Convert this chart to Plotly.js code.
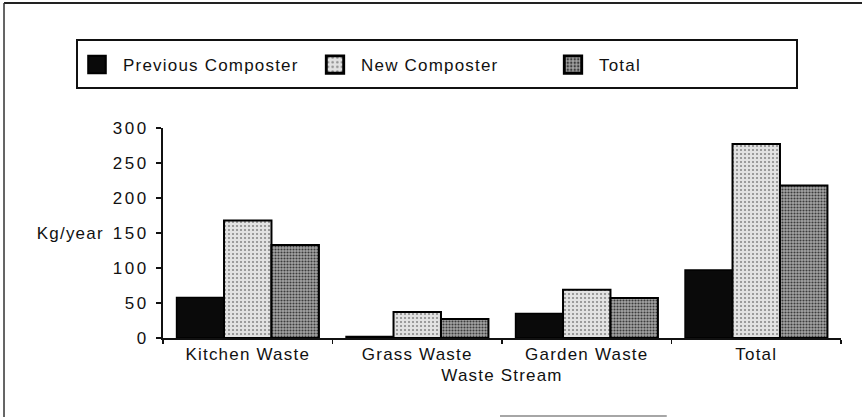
<!DOCTYPE html>
<html>
<head>
<meta charset="utf-8">
<script src="https://cdn.plot.ly/plotly-3.0.1.min.js"></script>
<style>
html, body { margin: 0; padding: 0; background: #fff; }
#chart { width: 862px; height: 417px; }
.main-svg text { letter-spacing: 1.2px; }
.ytick text { letter-spacing: 2.5px; }
.legendpoints path { transform-box: fill-box; transform-origin: center; transform: translate(18px, 0px) scale(1.45); }
</style>
</head>
<body>
<div id="chart"></div>
<script>
const categories = ["Kitchen Waste", "Grass Waste", "Garden Waste", "Total"];
const previousComposter = [58, 2, 35, 97];
const newComposter = [168, 37, 69, 277];
const totalValues = [133, 27, 57, 218];
const seriesNames = ["Previous Composter", "New Composter", "Total"];
const yTickValues = [0, 50, 100, 150, 200, 250, 300];
const yTickLabels = ["0", "50", "100", "150", "200", "250", "300"];

const font = { family: "Liberation Sans, Arial, sans-serif", size: 17, color: "#111" };

const traces = [
  {
    type: "bar", name: seriesNames[0], x: categories, y: previousComposter,
    marker: { color: "#0a0a0a", line: { color: "#000", width: 1.5 } }
  },
  {
    type: "bar", name: seriesNames[1], x: categories, y: newComposter,
    marker: {
      color: "#d2d2d2",
      line: { color: "#000", width: 2 },
      pattern: { shape: ".", bgcolor: "#e2e2e2", fgcolor: "#8a8a8a", size: 4, solidity: 0.22 }
    }
  },
  {
    type: "bar", name: seriesNames[2], x: categories, y: totalValues,
    marker: {
      color: "#8c8c8c",
      line: { color: "#000", width: 2 },
      pattern: { shape: ".", bgcolor: "#a4a4a4", fgcolor: "#3c3c3c", size: 3, solidity: 0.4 }
    }
  }
];

const W = 862, H = 417;
const layout = {
  width: W, height: H,
  margin: { l: 163, r: 21, t: 128, b: 79 },
  paper_bgcolor: "#fff", plot_bgcolor: "#fff",
  font: font,
  barmode: "group", bargap: 0.16, bargroupgap: 0,
  showlegend: true,
  legend: {
    orientation: "h",
    x: (79 - 163) / 678, xanchor: "left", y: (338 - 47) / 210, yanchor: "top",
    borderwidth: 0, bgcolor: "rgba(0,0,0,0)",
    entrywidth: 189, entrywidthmode: "pixels",
    font: font, itemwidth: 34
  },
  xaxis: {
    type: "category", showline: true, linecolor: "#111", linewidth: 2,
    ticks: "outside", tickson: "boundaries", ticklen: 4, tickwidth: 1.5, tickcolor: "#111",
    showgrid: false, zeroline: false, tickfont: font,
    title: { text: "Waste Stream", font: font, standoff: 6 }
  },
  yaxis: {
    range: [0, 300], showline: true, linecolor: "#111", linewidth: 2,
    ticks: "outside", ticklen: 5, tickwidth: 1.5, tickcolor: "#111",
    tickvals: yTickValues, ticktext: yTickLabels,
    showgrid: false, zeroline: false, tickfont: font, ticklabelstandoff: 4
  },
  annotations: [
    { text: "Kg/year", xref: "paper", yref: "y", x: -0.09, y: 150, xanchor: "right", yanchor: "middle", showarrow: false, font: font }
  ],
  shapes: [
    { type: "rect", xref: "paper", yref: "paper",
      x0: (77 - 163) / 678, x1: (797 - 163) / 678, y0: (338 - 40) / 210, y1: (338 - 88) / 210,
      line: { color: "#111", width: 2 }, fillcolor: "rgba(0,0,0,0)" },
    { type: "line", xref: "paper", yref: "paper", x0: -0.2345, x1: 1.04, y0: 1.595, y1: 1.595, line: { color: "#222", width: 2 } },
    { type: "line", xref: "paper", yref: "paper", x0: -0.2345, x1: -0.2345, y0: 1.595, y1: -0.38, line: { color: "#333", width: 1.5 } },
    { type: "line", xref: "paper", yref: "paper", x0: 0.497, x1: 0.743, y0: -0.372, y1: -0.372, line: { color: "#888", width: 1.5 } }
  ]
};

Plotly.newPlot("chart", traces, layout, { displayModeBar: false, staticPlot: true });
</script>
</body>
</html>
